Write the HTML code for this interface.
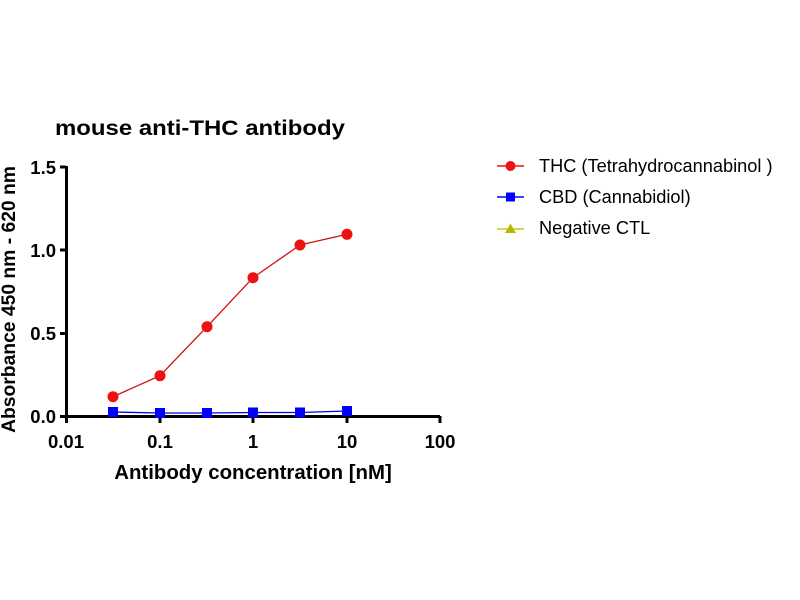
<!DOCTYPE html>
<html><head><meta charset="utf-8"><style>body{margin:0;background:#fff}svg{display:block}text{font-family:"Liberation Sans",Arial,sans-serif}</style></head><body>
<svg width="800" height="600" viewBox="0 0 800 600">
<text x="55" y="135" font-size="21" font-weight="bold" textLength="290" lengthAdjust="spacingAndGlyphs">mouse anti-THC antibody</text>
<g stroke="#000" stroke-width="3" fill="none">
<path d="M66.5 166 V416.5 H440"/>
<path d="M60 167 H66 M60 250 H66 M60 333.5 H66 M60 416.5 H66"/>
<path d="M66.5 416 V423 M160 416 V423 M253 416 V423 M347 416 V423 M440 416 V423"/>
</g>
<g font-size="18.5" font-weight="bold" text-anchor="end">
<text x="56" y="174">1.5</text><text x="56" y="257">1.0</text><text x="56" y="340">0.5</text><text x="56" y="423">0.0</text>
</g>
<g font-size="18.5" font-weight="bold" text-anchor="middle">
<text x="66" y="448">0.01</text><text x="160" y="448">0.1</text><text x="253" y="448">1</text><text x="347" y="448">10</text><text x="440" y="448">100</text>
</g>
<text x="253" y="479" font-size="20.4" font-weight="bold" text-anchor="middle">Antibody concentration [nM]</text>
<text transform="translate(15,299.5) rotate(-90)" font-size="19.3" font-weight="bold" text-anchor="middle">Absorbance 450 nm - 620 nm</text>
<polyline points="113,412 160,413 207,413 253,412.5 300,412.5 347,411" fill="none" stroke="#0000e0" stroke-width="1.3"/>
<g fill="#0000ff"><rect x="108" y="407" width="10" height="10"/><rect x="155" y="408" width="10" height="10"/><rect x="202" y="408" width="10" height="10"/><rect x="248" y="407.5" width="10" height="10"/><rect x="295" y="407.5" width="10" height="10"/><rect x="342" y="406" width="10" height="10"/></g>
<polyline points="113,396.7 160,375.7 207,326.7 253,277.7 300,245 347,234.3" fill="none" stroke="#d01010" stroke-width="1.3"/>
<g fill="#ee1111"><circle cx="113" cy="396.7" r="5.5"/><circle cx="160" cy="375.7" r="5.5"/><circle cx="207" cy="326.7" r="5.5"/><circle cx="253" cy="277.7" r="5.5"/><circle cx="300" cy="245" r="5.5"/><circle cx="347" cy="234.3" r="5.5"/></g>
<line x1="497" y1="166" x2="524" y2="166" stroke="#ee1111" stroke-width="1.5"/><circle cx="510.5" cy="166" r="5" fill="#ee1111"/>
<line x1="497" y1="197" x2="524" y2="197" stroke="#0000ff" stroke-width="1.5"/><rect x="506" y="192.5" width="9" height="9" fill="#0000ff"/>
<line x1="497" y1="229" x2="524" y2="229" stroke="#c8c820" stroke-width="1.5"/><polygon points="510.5,223.5 516,233 505,233" fill="#b8b800"/>
<g font-size="18.2"><text x="539" y="172">THC (Tetrahydrocannabinol )</text><text x="539" y="203">CBD (Cannabidiol)</text><text x="539" y="234">Negative CTL</text></g>
</svg>
</body></html>
